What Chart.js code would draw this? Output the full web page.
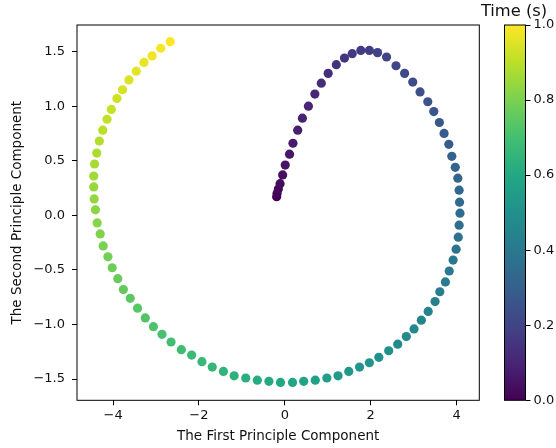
<!DOCTYPE html>
<html lang="en">
<head>
    <meta charset="UTF-8">
    <title>PCA Trajectory</title>
    <script src="https://cdn.jsdelivr.net/npm/chart.js"></script>
    <style>
        body {
            margin: 0;
            background: #fff;
        }
        .wrap {
            position: relative;
            width: 556px;
            height: 448px;
        }
        #pcaChart {
            position: absolute;
            left: 0;
            top: 0;
        }
        #cbarChart {
            position: absolute;
            left: 472px;
            top: 0;
        }
    </style>
</head>
<body>
    <div class="wrap">
        <canvas id="pcaChart" width="556" height="448"></canvas>
        <canvas id="cbarChart" width="84" height="448"></canvas>
    </div>

    <script>
        // projected trajectory, one point per time step
        const pc1 = [
            -0.19, -0.18, -0.15, -0.11, -0.05, 0.01, 0.11, 0.19, 0.30, 0.41,
            0.55, 0.70, 0.85, 1.01, 1.20, 1.39, 1.57, 1.77, 1.97, 2.16,
            2.37, 2.59, 2.79, 2.98, 3.15, 3.33, 3.47, 3.60, 3.71, 3.82,
            3.89, 3.97, 4.03, 4.06, 4.07, 4.08, 4.06, 4.04, 3.99, 3.92,
            3.83, 3.74, 3.61, 3.50, 3.34, 3.18, 3.01, 2.83, 2.63, 2.42,
            2.19, 1.97, 1.74, 1.49, 1.24, 0.98, 0.71, 0.44, 0.18, -0.10,
            -0.37, -0.64, -0.91, -1.18, -1.43, -1.69, -1.93, -2.17, -2.41, -2.65,
            -2.86, -3.06, -3.25, -3.43, -3.60, -3.76, -3.89, -4.02, -4.12, -4.23,
            -4.30, -4.37, -4.41, -4.44, -4.45, -4.45, -4.43, -4.38, -4.32, -4.24,
            -4.14, -4.04, -3.91, -3.78, -3.63, -3.46, -3.28, -3.09, -2.89, -2.67
        ];
        const pc2 = [
            0.17, 0.20, 0.24, 0.29, 0.37, 0.46, 0.56, 0.66, 0.78, 0.89,
            1.00, 1.11, 1.21, 1.30, 1.38, 1.44, 1.48, 1.51, 1.51, 1.49,
            1.45, 1.37, 1.30, 1.22, 1.13, 1.04, 0.95, 0.85, 0.75, 0.65,
            0.54, 0.44, 0.34, 0.23, 0.12, 0.02, -0.09, -0.20, -0.31, -0.41,
            -0.51, -0.61, -0.70, -0.79, -0.88, -0.96, -1.04, -1.11, -1.18, -1.24,
            -1.30, -1.35, -1.39, -1.43, -1.47, -1.49, -1.51, -1.52, -1.53, -1.53,
            -1.52, -1.51, -1.49, -1.47, -1.43, -1.39, -1.34, -1.28, -1.23, -1.16,
            -1.09, -1.02, -0.94, -0.85, -0.76, -0.68, -0.58, -0.48, -0.38, -0.28,
            -0.17, -0.07, 0.05, 0.15, 0.26, 0.36, 0.47, 0.57, 0.68, 0.78,
            0.88, 0.97, 1.07, 1.15, 1.24, 1.32, 1.40, 1.46, 1.53, 1.59
        ];
        // time of each sample (s)
        const times = [
            0.000, 0.010, 0.020, 0.030, 0.040, 0.051, 0.061, 0.071, 0.081, 0.091,
            0.101, 0.111, 0.121, 0.131, 0.141, 0.152, 0.162, 0.172, 0.182, 0.192,
            0.202, 0.212, 0.222, 0.232, 0.242, 0.253, 0.263, 0.273, 0.283, 0.293,
            0.303, 0.313, 0.323, 0.333, 0.343, 0.354, 0.364, 0.374, 0.384, 0.394,
            0.404, 0.414, 0.424, 0.434, 0.444, 0.455, 0.465, 0.475, 0.485, 0.495,
            0.505, 0.515, 0.525, 0.535, 0.545, 0.556, 0.566, 0.576, 0.586, 0.596,
            0.606, 0.616, 0.626, 0.636, 0.646, 0.657, 0.667, 0.677, 0.687, 0.697,
            0.707, 0.717, 0.727, 0.737, 0.747, 0.758, 0.768, 0.778, 0.788, 0.798,
            0.808, 0.818, 0.828, 0.838, 0.848, 0.859, 0.869, 0.879, 0.889, 0.899,
            0.909, 0.919, 0.929, 0.939, 0.949, 0.960, 0.970, 0.980, 0.990, 1.000
        ];
        const xTicks = [-4, -2, 0, 2, 4];
        const yTicks = [-1.5, -1.0, -0.5, 0.0, 0.5, 1.0, 1.5];
        const cbarTicks = [0.0, 0.2, 0.4, 0.6, 0.8, 1.0];

        // viridis sampled at 0, 0.1, ..., 1
        const viridis = ['#440154', '#482576', '#414487', '#35608d', '#2a788e', '#21908c',
                         '#22a884', '#43bf71', '#7ad151', '#bbdf27', '#fde725'];

        const hexToRgb = h => [1, 3, 5].map(i => parseInt(h.slice(i, i + 2), 16));
        function colormap(t) {
            const pos = Math.min(Math.max(t, 0), 1) * (viridis.length - 1);
            const i = Math.min(Math.floor(pos), viridis.length - 2);
            const f = pos - i;
            const a = hexToRgb(viridis[i]), b = hexToRgb(viridis[i + 1]);
            const c = a.map((v, k) => Math.round(v + (b[k] - v) * f));
            return `rgb(${c[0]}, ${c[1]}, ${c[2]})`;
        }

        const FONT = "'DejaVu Sans', sans-serif";
        const minus = s => s.replace('-', '\u2212');

        // matplotlib-style box around the axes
        const frame = {
            id: 'frame',
            afterDraw(chart) {
                const {ctx, chartArea: a} = chart;
                ctx.save();
                ctx.strokeStyle = '#000';
                ctx.lineWidth = 1;
                ctx.strokeRect(a.left, a.top, a.right - a.left, a.bottom - a.top);
                ctx.restore();
            }
        };

        const tickGrid = {drawOnChartArea: false, drawTicks: true, tickLength: 5, tickColor: '#000', tickWidth: 1};

        new Chart(document.getElementById('pcaChart'), {
            type: 'scatter',
            data: {
                datasets: [{
                    data: pc1.map((x, i) => ({x: x, y: pc2[i]})),
                    backgroundColor: times.map(colormap),
                    borderWidth: 0,
                    pointRadius: 4.6,
                    pointHoverRadius: 4.6,
                }],
            },
            options: {
                responsive: false,
                animation: false,
                events: [],
                layout: {padding: {left: 0, top: 25, right: 76.7, bottom: 0}},
                plugins: {legend: {display: false}, tooltip: {enabled: false}},
                scales: {
                    x: {
                        type: 'linear',
                        min: -4.84,
                        max: 4.53,
                        afterBuildTicks: s => { s.ticks = xTicks.map(v => ({value: v})); },
                        afterFit: s => { s.height = 47.7; },
                        ticks: {
                            color: '#111',
                            padding: 3,
                            maxRotation: 0,
                            font: {family: FONT, size: 13},
                            callback: v => minus(String(v)),
                        },
                        grid: tickGrid,
                        border: {display: false},
                        title: {
                            display: true,
                            text: 'The First Principle Component',
                            color: '#111',
                            font: {family: FONT, size: 13.5},
                            padding: {top: 0, bottom: 3.9},
                        },
                    },
                    y: {
                        type: 'linear',
                        min: -1.694,
                        max: 1.743,
                        afterBuildTicks: s => { s.ticks = yTicks.map(v => ({value: v})); },
                        afterFit: s => { s.width = 77; },
                        ticks: {
                            color: '#111',
                            padding: 7,
                            font: {family: FONT, size: 13},
                            callback: v => minus(v.toFixed(1)),
                        },
                        grid: tickGrid,
                        border: {display: false},
                        title: {
                            display: true,
                            text: 'The Second Principle Component',
                            color: '#111',
                            font: {family: FONT, size: 13.5},
                            padding: {top: 9.7, bottom: 0},
                        },
                    },
                },
            },
            plugins: [frame],
        });

        // colour bar for the time axis
        new Chart(document.getElementById('cbarChart'), {
            type: 'bar',
            data: {
                labels: [''],
                datasets: [{
                    data: [[cbarTicks[0], cbarTicks[cbarTicks.length - 1]]],
                    backgroundColor: ctx => {
                        const a = ctx.chart.chartArea;
                        if (!a) return viridis[5];
                        const g = ctx.chart.ctx.createLinearGradient(0, a.bottom, 0, a.top);
                        viridis.forEach((c, i) => g.addColorStop(i / (viridis.length - 1), c));
                        return g;
                    },
                    borderWidth: 0,
                    barPercentage: 1,
                    categoryPercentage: 1,
                }],
            },
            options: {
                responsive: false,
                animation: false,
                events: [],
                layout: {padding: {left: 0, top: 0, right: 0, bottom: 47.7}},
                plugins: {
                    legend: {display: false},
                    tooltip: {enabled: false},
                    title: {
                        display: true,
                        text: 'Time (s)',
                        color: '#111',
                        font: {family: FONT, size: 16.3, weight: 'normal'},
                        padding: {top: 1.7, bottom: 3.74},
                    },
                },
                scales: {
                    x: {display: false},
                    // empty spacer so the bar sits right of the scatter axes
                    gap: {
                        position: 'left',
                        afterFit: s => { s.width = 32.5; },
                        ticks: {display: false},
                        grid: {display: false},
                        border: {display: false},
                    },
                    y: {
                        position: 'right',
                        min: 0,
                        max: 1,
                        afterBuildTicks: s => { s.ticks = cbarTicks.map(v => ({value: v})); },
                        afterFit: s => { s.width = 30.5; },
                        ticks: {
                            color: '#111',
                            padding: 3,
                            font: {family: FONT, size: 13},
                            callback: v => v.toFixed(1),
                        },
                        grid: tickGrid,
                        border: {display: false},
                    },
                },
            },
            plugins: [frame],
        });
    </script>
</body>
</html>
